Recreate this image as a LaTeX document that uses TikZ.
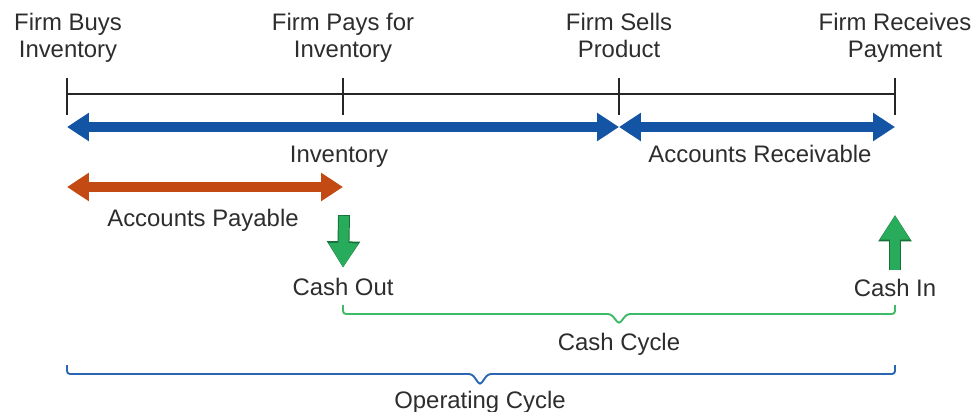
\documentclass[tikz,border=0pt]{standalone}
\usepackage{fontspec}
\setmainfont{Liberation Sans}
\usetikzlibrary{arrows.meta}

\definecolor{invblue}{RGB}{20,84,164}
\definecolor{payorange}{RGB}{196,74,20}
\definecolor{cashgreen}{RGB}{40,172,92}
\definecolor{cashdark}{RGB}{22,112,58}
\definecolor{bracegreen}{RGB}{62,186,104}
\definecolor{braceblue}{RGB}{42,102,180}
\definecolor{txtgray}{RGB}{45,45,45}

\begin{document}
\begin{tikzpicture}[x=0.02cm,y=-0.02cm,
  lbl/.style={text=txtgray,font=\fontsize{13.6}{15.4}\selectfont,inner sep=0pt},
  event/.style={lbl,align=center,anchor=north},
  tick/.style={line width=0.8pt,black!85},
  span/.style={line width=5.7pt,{Triangle[length=12.5pt,width=15.4pt]}-{Triangle[length=12.5pt,width=15.4pt]}},
  flow/.style={line width=5.7pt,cashgreen,-{Triangle[length=14pt,width=16pt]},
    preaction={draw=cashdark,line width=6.8pt,shorten <=-0.5pt,-{Triangle[length=15pt,width=18pt]}}},
  cyc/.style={line width=1.1pt,rounded corners=1.7pt}]
\useasboundingbox (0,0) rectangle (977,412);

% Events
\node[event] (buy) at (68,13) {Firm Buys\\Inventory};
\node[event] (pay) at (343,13) {Firm Pays for\\Inventory};
\node[event] (sell) at (619,13) {Firm Sells\\Product};
\node[event] (recv) at (895,13) {Firm Receives\\Payment};

% Time line and ticks
\foreach \n/\x in {buy/67,pay/343,sell/619,recv/895} {
  \draw[tick] (\x,78) -- (\x,115);
  \coordinate (\n-a) at (\x,127);
  \coordinate (\n-p) at (\x,187);
}
\draw[tick] (67,94) -- (895,94);

% Inventory and receivables
\draw[span,invblue] (buy-a) -- (sell-a);
\draw[span,invblue] (sell-a) -- (recv-a);
\node[lbl,anchor=base] (inv) at (339,162) {Inventory};
\node[lbl,anchor=base] (ar) at (760,162) {Accounts Receivable};

% Payables
\draw[span,payorange] (buy-p) -- (pay-p);
\node[lbl,anchor=base] (ap) at (203,226) {Accounts Payable};

% Cash flows
\node[lbl,anchor=base] (out) at (343,295) {Cash Out};
\node[lbl,anchor=base] (in) at (895,296) {Cash In};
\coordinate (out-top) at (344,216);
\coordinate (in-top) at (895,215);
\draw[flow] (out-top) -- ([yshift=5.5pt]out.north);
\draw[flow] ([yshift=5pt]in.north) -- (in-top);

% Cycles
\draw[cyc,bracegreen] (343,305) -- (343,314) -- (611,314) -- (619,324) -- (627,314) -- (895,314) -- (895,305);
\node[lbl,anchor=base] (cc) at (619,350) {Cash Cycle};
\draw[cyc,braceblue] (67,365) -- (67,374) -- (472,374) -- (480,385) -- (488,374) -- (895,374) -- (895,365);
\node[lbl,anchor=base] (oc) at (480,408) {Operating Cycle};
\end{tikzpicture}
\end{document}
